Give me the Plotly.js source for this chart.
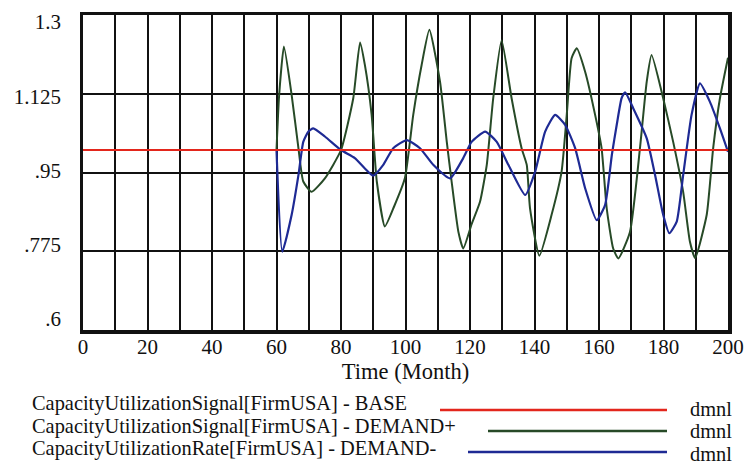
<!DOCTYPE html>
<html><head><meta charset="utf-8">
<script src="https://cdn.plot.ly/plotly-3.0.1.min.js"></script>
<style>html,body{margin:0;padding:0;background:#fff}#chart{width:744px;height:466px}</style>
</head><body><div id="chart"></div>
<script>
// ---- data ----
const timeBase = [0, 200];
const signalBase = [1.0, 1.0];

const timeDemandPlus = [60, 60.8, 62.3, 64.7, 66.8, 68.3, 70.9, 75, 80, 83.8, 85.9, 87.4, 89.5, 91.1, 93.6, 96.5, 99.8, 102.4, 105, 107.4, 110.7, 112.8, 114.3, 116.4, 117.9, 120.5, 123.1, 125.2, 127.2, 129.8, 132.9, 136, 137.6, 138.6, 141.5, 145.3, 148.4, 150, 151.5, 153.1, 155.7, 158.8, 160.8, 162.4, 164.4, 166, 169.6, 172.7, 174.8, 176.3, 179.9, 183, 186.1, 188.2, 189.8, 193.4, 195.4, 197.5, 200];
const signalDemandPlus = [1.0, 1.12, 1.23, 1.122, 1.004, 0.930, 0.907, 0.937, 1.0, 1.115, 1.239, 1.189, 1.078, 0.930, 0.830, 0.875, 0.937, 1.078, 1.189, 1.267, 1.152, 1.018, 0.930, 0.818, 0.781, 0.835, 0.885, 0.967, 1.115, 1.244, 1.115, 1.004, 0.967, 0.871, 0.765, 0.856, 0.952, 1.078, 1.204, 1.226, 1.174, 1.078, 1.004, 0.870, 0.781, 0.759, 0.818, 1.004, 1.152, 1.211, 1.115, 1.018, 0.907, 0.796, 0.760, 0.856, 1.004, 1.115, 1.205];

const timeDemandMinus = [60, 61.8, 64.7, 66.8, 68.3, 69.9, 71.4, 75, 80, 84.3, 87.4, 90, 93.1, 96.2, 100.4, 104.5, 108.6, 113.8, 117.9, 120.5, 124.7, 128.3, 131.9, 137.1, 140.2, 143.3, 146.4, 149.5, 152.6, 155.7, 159.3, 161.9, 164, 165.5, 167, 168.1, 170.6, 174.8, 177.4, 179.9, 181.8, 184.1, 186.1, 188.7, 191.3, 194.4, 197.5, 200];
const rateDemandMinus = [1.0, 0.774, 0.856, 0.944, 1.018, 1.041, 1.048, 1.030, 1.0, 0.982, 0.959, 0.943, 0.967, 1.004, 1.022, 1.004, 0.967, 0.937, 0.982, 1.018, 1.041, 1.018, 0.967, 0.900, 0.952, 1.041, 1.078, 1.056, 1.004, 0.915, 0.844, 0.878, 0.990, 1.056, 1.115, 1.128, 1.093, 1.026, 0.944, 0.856, 0.815, 0.841, 0.944, 1.078, 1.148, 1.107, 1.048, 0.996];

const yTickVals = [1.3, 1.125, 0.95, 0.775, 0.6];
const yTickText = ['1.3', '1.125', '.95', '.775', '.6'];
const xTickVals = [0, 20, 40, 60, 80, 100, 120, 140, 160, 180, 200];

const seriesNames = [
  'CapacityUtilizationSignal[FirmUSA] - BASE',
  'CapacityUtilizationSignal[FirmUSA] - DEMAND+',
  'CapacityUtilizationRate[FirmUSA] - DEMAND-'
];
const unitLabel = 'dmnl';
const xTitle = 'Time (Month)';

// ---- styling ----
const colors = ['#e3261c', '#274a27', '#1e2a94'];
const FONT = 'Liberation Serif, Times New Roman, serif';
const M = {l: 83, r: 16, t: 15, b: 136};
const W = 744, H = 466;
const PW = W - M.l - M.r, PH = H - M.t - M.b;
const px = v => (v - M.l) / PW;
const py = v => (H - M.b - v) / PH;

const traces = [
  {x: timeDemandPlus, y: signalDemandPlus, name: seriesNames[1], mode: 'lines',
   line: {color: colors[1], width: 2, shape: 'spline', smoothing: 0.5}},
  {x: timeDemandMinus, y: rateDemandMinus, name: seriesNames[2], mode: 'lines',
   line: {color: colors[2], width: 2.2, shape: 'spline', smoothing: 0.5}},
  {x: timeBase, y: signalBase, name: seriesNames[0], mode: 'lines',
   line: {color: colors[0], width: 2.2}},
  // empty trace so that the label axis (y2) is rendered
  {x: [], y: [], yaxis: 'y2', mode: 'lines', showlegend: false, hoverinfo: 'skip'}
];

// legend rows (text, sample line, unit)
const rowTextY = [403.5, 426, 448.5];
const rowLineY = [410, 431, 452];
const rowUnitY = [408.5, 431, 453.5];
const lineStartX = [440, 488, 468];
const lineEndX = 667;
const LEG_FONT = 20.4;
const annotations = [];
const shapes = [];
for (let i = 0; i < 3; i++) {
  annotations.push({xref: 'paper', yref: 'paper', x: px(30), y: py(rowTextY[i]),
    xanchor: 'left', yanchor: 'middle', showarrow: false, text: seriesNames[i],
    font: {family: FONT, size: LEG_FONT, color: '#111'}});
  annotations.push({xref: 'paper', yref: 'paper', x: px(688), y: py(rowUnitY[i]),
    xanchor: 'left', yanchor: 'middle', showarrow: false, text: unitLabel,
    font: {family: FONT, size: LEG_FONT, color: '#111'}});
  shapes.push({type: 'line', xref: 'paper', yref: 'paper',
    x0: px(lineStartX[i]), x1: px(lineEndX), y0: py(rowLineY[i]), y1: py(rowLineY[i]),
    line: {color: colors[i], width: 2.5}});
}

const layout = {
  width: W, height: H,
  margin: M,
  paper_bgcolor: '#fff', plot_bgcolor: '#fff',
  showlegend: false,
  font: {family: FONT, color: '#111'},
  xaxis: {
    range: [0, 200], tickvals: xTickVals, ticks: '', ticklabelstandoff: -5,
    tickfont: {family: FONT, size: 21, color: '#111'},
    showgrid: true, gridcolor: '#111', gridwidth: 2,
    minor: {dtick: 10, tick0: 0, showgrid: true, gridcolor: '#111', gridwidth: 2, ticks: ''},
    showline: true, mirror: true, linecolor: '#111', linewidth: 3.5,
    zeroline: false, fixedrange: true,
    title: {text: xTitle, font: {family: FONT, size: 22.5, color: '#111'}, standoff: 0}
  },
  yaxis: {
    range: [0.6, 1.3], tick0: 0.6, dtick: 0.175, ticks: '', showticklabels: false,
    showgrid: true, gridcolor: '#111', gridwidth: 2,
    showline: true, mirror: true, linecolor: '#111', linewidth: 3.5,
    zeroline: false, fixedrange: true
  },
  yaxis2: {
    overlaying: 'y', side: 'left', anchor: 'x',
    range: [0.6 - 11 / 424.3, 1.3 + 7 / 424.3],
    tickvals: yTickVals, ticktext: yTickText, ticks: '',
    tickfont: {family: FONT, size: 21, color: '#111'}, ticklabelstandoff: 21,
    showgrid: false, zeroline: false, showline: false, fixedrange: true
  },
  annotations: annotations,
  shapes: shapes
};

Plotly.newPlot('chart', traces, layout, {displayModeBar: false, staticPlot: true});
</script>
</body></html>
